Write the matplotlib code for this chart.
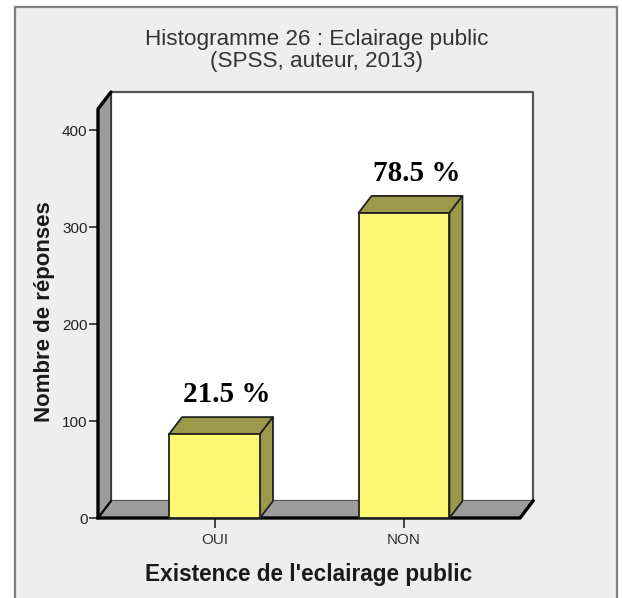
import matplotlib
matplotlib.use('Agg')
import matplotlib.pyplot as plt
from matplotlib.patches import Polygon, Rectangle

categories = ['OUI', 'NON']
counts = [86.5, 314.5]
percent_labels = ['21.5 %', '78.5 %']
y_ticks = [0, 100, 200, 300, 400]

W, H = 622, 598
BG = '#eeeeee'
YELLOW = '#fcf873'
OLIVE = '#9c9a4a'
WALL = '#9c9c9c'
SANS = 'Liberation Sans'
SERIF = 'Liberation Serif'

fig = plt.figure(figsize=(W / 100, H / 100), dpi=100, facecolor='white')

# chart frame, open at the bottom of the picture
fig.patches.append(Rectangle((15 / W, -0.01), 602 / W, 1.01 - 7 / H, transform=fig.transFigure,
                             facecolor=BG, edgecolor='#808080', linewidth=1.6, zorder=-1))

# axes box runs from the front-left corner to the back-right corner
ax = fig.add_axes([98 / W, 1 - 518 / H, 435 / W, 426 / H])
ax.set_xlim(-0.615, 1.681)
ax.set_ylim(0, 439.2)
ax.patch.set_alpha(0)
for s in ax.spines.values():
    s.set_visible(False)

xmin, xmax = -0.615, 1.681
ymax = 439.2
dx = 13 / 189.5   # depth of the 3d effect in x units
dy = 17 / 0.97    # same in y units
front_r = xmax - dx


def poly(pts, fc, ec='none', lw=0, z=1):
    ax.add_patch(Polygon(pts, closed=True, facecolor=fc, edgecolor=ec, linewidth=lw,
                         zorder=z, clip_on=False, joinstyle='round'))


# back wall, side wall, floor
poly([(xmin + dx, dy), (xmax, dy), (xmax, ymax), (xmin + dx, ymax)], 'white', '#555555', 1.6, 1)
poly([(xmin, 0), (xmin + dx, dy), (xmin + dx, ymax), (xmin, ymax - dy)], WALL, '#333333', 1.2, 2)
poly([(xmin, 0), (front_r, 0), (xmax, dy), (xmin + dx, dy)], WALL, 'none', 0, 2)

# thick black front edges
ax.plot([xmin, xmin, xmin + dx], [0, ymax - dy, ymax], color='black', lw=2.4, zorder=3,
        clip_on=False, solid_capstyle='round', solid_joinstyle='round')
ax.plot([xmin, xmin + dx], [0, dy], color='black', lw=1.6, zorder=3, clip_on=False)
ax.plot([xmin, front_r, xmax], [0, 0, dy], color='black', lw=2.4, zorder=3, clip_on=False,
        solid_joinstyle='round')

# bars
xpos = list(range(len(categories)))
bw = 0.48
ax.bar(xpos, counts, width=bw, color=YELLOW, edgecolor='#222222', linewidth=1.3, zorder=5,
       clip_on=False)
for x, v, lab in zip(xpos, counts, percent_labels):
    l, r = x - bw / 2, x + bw / 2
    poly([(l, v), (r, v), (r + dx, v + dy), (l + dx, v + dy)], OLIVE, '#222222', 1.3, 4)
    poly([(r, 0), (r + dx, dy), (r + dx, v + dy), (r, v)], OLIVE, '#222222', 1.3, 4)
    ax.text(x + 0.065, v + dy + 9, lab, ha='center', va='bottom', fontsize=21,
            fontweight='bold', family=SERIF, color='black', zorder=6)

ax.set_xticks(xpos, categories)
ax.set_yticks(y_ticks)
ax.tick_params(axis='x', length=7.5, width=1.4, color='#444444', pad=3, labelsize=11,
               labelcolor='#333333')
ax.tick_params(axis='y', length=6.5, width=1.4, color='#444444', pad=1, labelsize=11,
               labelcolor='#222222')
for t in ax.get_xticklabels() + ax.get_yticklabels():
    t.set_family(SANS)

fig.text(317 / W, 1 - 39 / H, 'Histogramme 26 : Eclairage public', ha='center', va='center',
         fontsize=16.2, family=SANS, color='#333333')
fig.text(317 / W, 1 - 62 / H, '(SPSS, auteur, 2013)', ha='center', va='center',
         fontsize=16.2, family=SANS, color='#333333')
fig.text(45 / W, 1 - 312 / H, 'Nombre de réponses', rotation=90, ha='center', va='center',
         fontsize=16, fontweight='bold', family=SANS, color='#1a1a1a')
fig.text(309 / W, 1 - 575 / H, "Existence de l'eclairage public", ha='center', va='center',
         fontsize=16.3, fontweight='bold', family=SANS, color='#1a1a1a')

fig.savefig('out.png', dpi=100, facecolor=fig.get_facecolor())
